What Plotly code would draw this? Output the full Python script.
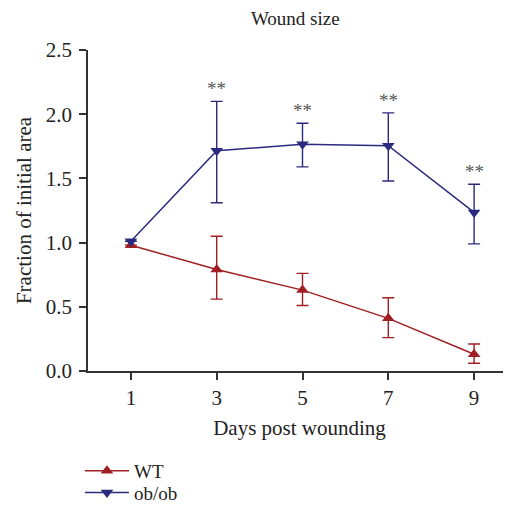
import plotly.graph_objects as go

days = [1, 3, 5, 7, 9]
wt_mean = [0.98, 0.79, 0.63, 0.41, 0.13]
wt_err_plus = [None, 0.26, 0.13, 0.16, 0.08]
wt_err_minus = [None, 0.23, 0.12, 0.15, 0.07]
ob_mean = [1.01, 1.715, 1.765, 1.755, 1.235]
ob_err_plus = [None, 0.385, 0.165, 0.255, 0.22]
ob_err_minus = [None, 0.405, 0.175, 0.275, 0.245]
sig_days = [3, 5, 7, 9]
sig_labels = ["**", "**", "**", "**"]

WT_C = "#a01f22"
OB_C = "#2b2a7e"
FONT = "Liberation Serif"
TXT = "#222222"

fig = go.Figure()
fig.add_trace(go.Scatter(
    x=days, y=wt_mean, name="WT", mode="lines+markers", legend="legend",
    line=dict(color=WT_C, width=1.5),
    marker=dict(symbol="triangle-up", size=11, color=WT_C),
    error_y=dict(type="data", array=wt_err_plus, arrayminus=wt_err_minus,
                 color=WT_C, thickness=1.4, width=6, symmetric=False),
))
fig.add_trace(go.Scatter(
    x=days, y=ob_mean, name="ob/ob", mode="lines+markers", legend="legend2",
    line=dict(color=OB_C, width=1.5),
    marker=dict(symbol="triangle-down", size=11, color=OB_C),
    error_y=dict(type="data", array=ob_err_plus, arrayminus=ob_err_minus,
                 color=OB_C, thickness=1.4, width=6, symmetric=False),
))

for d, lab in zip(sig_days, sig_labels):
    i = days.index(d)
    fig.add_annotation(x=d, y=ob_mean[i] + ob_err_plus[i], text=lab,
                       showarrow=False, yanchor="bottom", yshift=0,
                       font=dict(family=FONT, size=19, color="#555555"))

leg_common = dict(xanchor="left", yanchor="middle",
                  itemwidth=44, font=dict(family=FONT, size=19, color=TXT),
                  bgcolor="rgba(0,0,0,0)")
fig.update_layout(
    width=503, height=500,
    margin=dict(l=80, r=0, t=42, b=137, autoexpand=False),
    paper_bgcolor="white", plot_bgcolor="white",
    font=dict(family=FONT, size=19, color=TXT),
    title=dict(text="Wound size", xref="paper", x=0.49, xanchor="center", y=0.98, yanchor="middle",
               font=dict(family=FONT, size=19, color=TXT)),
    showlegend=True,
    legend=dict(x=-0.019, y=-0.311, **leg_common),
    legend2=dict(x=-0.019, y=-0.379, **leg_common),
)
fig.update_xaxes(
    range=[0, 9.86], tickvals=days, ticktext=[str(d) for d in days],
    tickfont=dict(size=21),
    showline=True, linecolor="#333333", linewidth=1.5,
    ticks="outside", ticklen=7, tickwidth=1.5, tickcolor="#333333",
    ticklabelstandoff=0,
    showgrid=False, zeroline=False, automargin=False,
    title=dict(text="Days post wounding", standoff=11, font=dict(size=21)),
)
fig.update_yaxes(
    range=[0, 2.5], tickvals=[0, 0.5, 1.0, 1.5, 2.0, 2.5],
    ticktext=["0.0", "0.5", "1.0", "1.5", "2.0", "2.5"],
    tickfont=dict(size=21),
    showline=True, linecolor="#333333", linewidth=1.5,
    ticks="outside", ticklen=7, tickwidth=1.5, tickcolor="#333333",
    ticklabelstandoff=3,
    showgrid=False, zeroline=False, automargin=False,
    title=dict(text="Fraction of initial area", standoff=8, font=dict(size=21)),
)

fig.write_html("out.html")
